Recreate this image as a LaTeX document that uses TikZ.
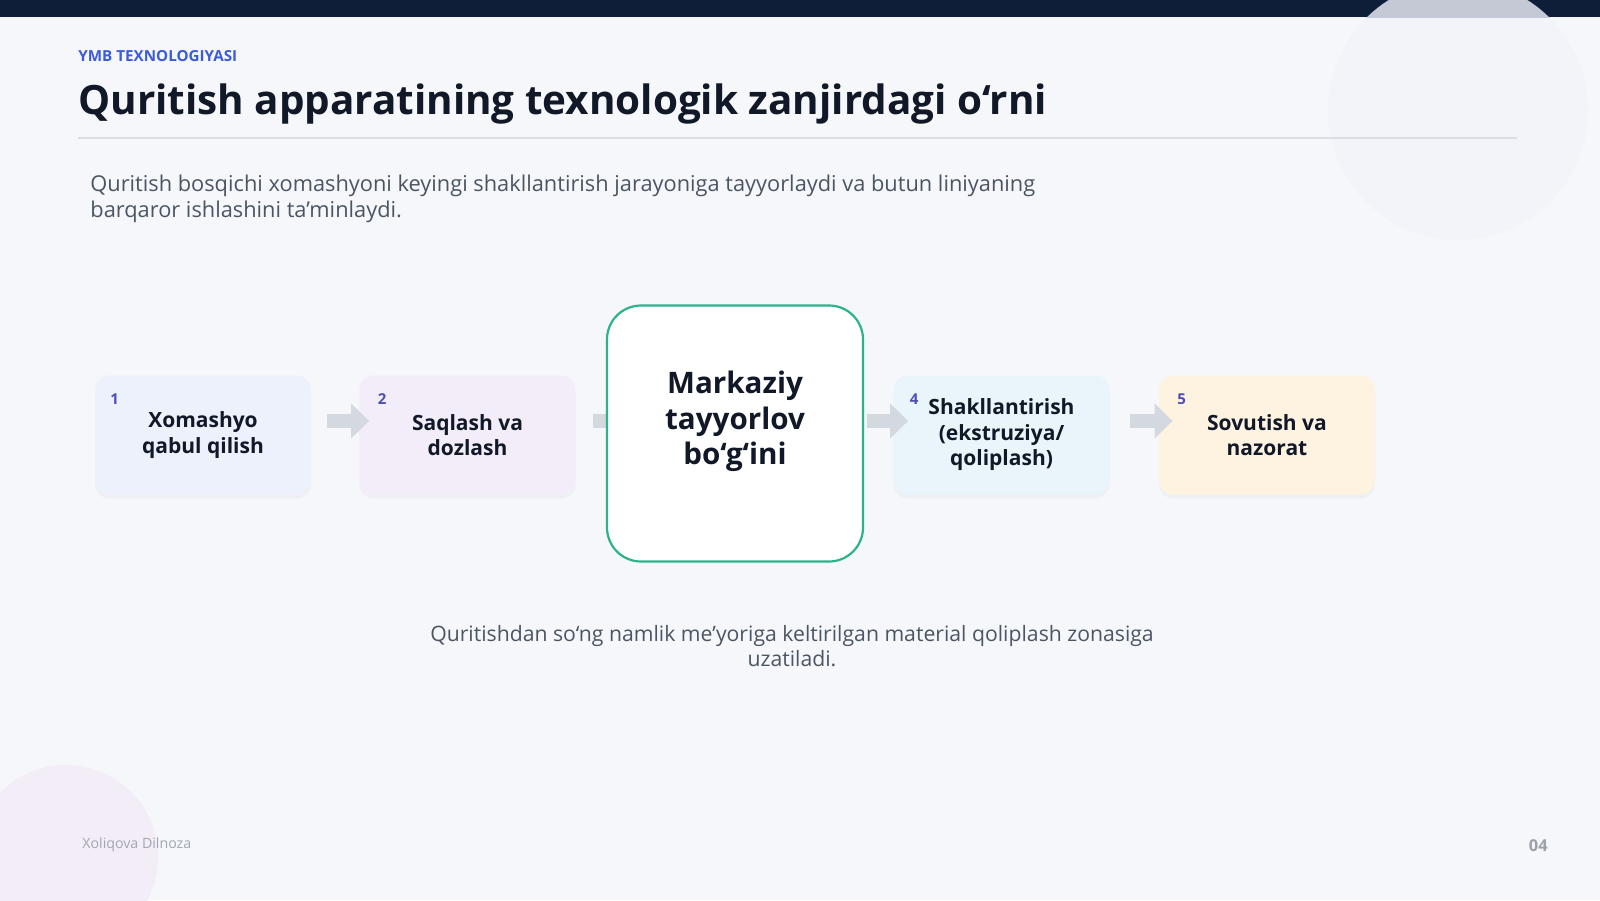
\documentclass[tikz,border=0pt]{standalone}
\usepackage{fontspec}
\setmainfont{Open Sans}
\usetikzlibrary{arrows.meta,shadows}

\definecolor{navy}{HTML}{0E1D38}
\definecolor{paperbg}{HTML}{F5F7FB}
\definecolor{inkdark}{HTML}{111827}
\definecolor{inkgrey}{HTML}{4B5563}
\definecolor{kicker}{HTML}{3B5BDB}
\definecolor{numblue}{HTML}{4C4FB8}
\definecolor{hubgreen}{HTML}{2DB38A}
\definecolor{arrowgrey}{HTML}{D4D8DF}
\definecolor{fillA}{HTML}{EDF1FB}
\definecolor{fillB}{HTML}{F3EDFA}
\definecolor{fillD}{HTML}{E9F5FB}
\definecolor{fillE}{HTML}{FEF3E1}
\definecolor{blobTR}{HTML}{F2F4F9}
\definecolor{blobBL}{HTML}{F3EDF7}
\definecolor{barlight}{HTML}{C4C9D5}
\definecolor{rulegrey}{HTML}{DADDE3}
\definecolor{footgrey}{HTML}{A3A7B0}
\definecolor{pagegrey}{HTML}{9CA0A8}

\pgfdeclarelayer{paper}
\pgfdeclarelayer{behind}
\pgfsetlayers{paper,behind,main}

\begin{document}
\begin{tikzpicture}[x=0.5pt,y=-0.5pt,
  stage/.style={rounded corners=7pt, minimum width=108pt, minimum height=59.5pt, inner sep=0pt,
    align=center, text=inkdark, font=\fontsize{10.5}{12.75}\selectfont\bfseries,
    drop shadow={opacity=0.05, shadow xshift=0pt, shadow yshift=-2pt}},
  hub/.style={draw=hubgreen, line width=1.1pt, fill=white, rounded corners=17pt,
    minimum width=128pt, minimum height=128pt, inner sep=0pt},
  hubtext/.style={align=center, inner sep=0pt, text=inkdark, font=\fontsize{14.8}{17.9}\selectfont\bfseries},
  num/.style={text=numblue, font=\fontsize{7.5}{9}\selectfont\bfseries, inner sep=0pt},
  flow/.style={draw=arrowgrey, line width=7pt, -{Triangle[width=17pt,length=9pt]}}]
\useasboundingbox (0,0) rectangle (1600,900);

\begin{pgfonlayer}{paper}
\fill[paperbg] (0,0) rectangle (1600,900);
\begin{scope}
\clip (0,0) rectangle (1600,900);
\fill[blobTR] (1458,110) circle (130);% blob top right
\fill[blobBL] (66,857) circle (92);% blob bottom left
\end{scope}
\fill[navy] (0,0) rectangle (1600,17);
\begin{scope}
\clip (0,0) rectangle (1600,17);
\fill[barlight] (1458,110) circle (130);
\end{scope}
\end{pgfonlayer}

% header
\node[anchor=base west, inner sep=0pt, text=kicker, font=\fontsize{7.6}{9}\selectfont\bfseries] (kick) at (78,61) {YMB TEXNOLOGIYASI};
\node[anchor=base west, inner sep=0pt, text=inkdark, font=\fontsize{20.2}{23}\selectfont\bfseries] (title) at (78,114) {Quritish apparatining texnologik zanjirdagi o‘rni};
\draw[rulegrey, line width=0.8pt] (78,138) -- (1517,138);
\node[anchor=north west, inner sep=0pt, align=left, text=inkgrey, font=\fontsize{10.9}{12.75}\selectfont] (intro) at (90,175)
  {Quritish bosqichi xomashyoni keyingi shakllantirish jarayoniga tayyorlaydi va butun liniyaning\\barqaror ishlashini ta’minlaydi.};

% chain
\coordinate (lane) at (0,421);
\node[stage, fill=fillA] (raw) at (203,435) {Xomashyo\\qabul qilish};
\node[stage, fill=fillB] (store) at (467.5,435) {Saqlash va\\dozlash};
\node[hub] (dry) at (735,433.5) {};
\node[hubtext] (drytext) at ([yshift=6pt]dry.center) {Markaziy\\tayyorlov\\bo‘g‘ini};
\node[stage, fill=fillD] (shape) at (1001.5,435) {Shakllantirish\\(ekstruziya/\\qoliplash)};
\node[stage, fill=fillE] (cool) at (1267,435) {Sovutish va\\nazorat};

\node[num] (n1) at ([xshift=10pt,yshift=-12pt]raw.north west) {1};
\node[num] (n2) at ([xshift=11.5pt,yshift=-12pt]store.north west) {2};
\node[num] (n4) at ([xshift=10.5pt,yshift=-12pt]shape.north west) {4};
\node[num] (n5) at ([xshift=11.5pt,yshift=-12pt]cool.north west) {5};

\draw[flow, shorten <=8pt, shorten >=-5pt] (raw.east |- lane) -- (store.west |- lane);
\begin{pgfonlayer}{behind}
\draw[flow, shorten <=8.5pt, shorten >=-12pt] (store.east |- lane) -- (dry.west |- lane);
\end{pgfonlayer}
\draw[flow, shorten <=1.5pt, shorten >=-7.5pt] (dry.east |- lane) -- (shape.west |- lane);
\draw[flow, shorten <=10pt, shorten >=-7pt] (shape.east |- lane) -- (cool.west |- lane);

\node[anchor=north, inner sep=0pt, align=center, text=inkgrey, font=\fontsize{10.6}{12.3}\selectfont] (note) at (792,625)
  {Quritishdan so‘ng namlik me’yoriga keltirilgan material qoliplash zonasiga\\uzatiladi.};

% footer
\node[anchor=base west, inner sep=0pt, text=footgrey, font=\fontsize{7.1}{8}\selectfont] (author) at (82,848) {Xoliqova Dilnoza};
\node[anchor=base east, inner sep=0pt, text=pagegrey, font=\fontsize{8.2}{9}\selectfont\bfseries] (page) at (1548,851) {04};
\end{tikzpicture}
\end{document}
